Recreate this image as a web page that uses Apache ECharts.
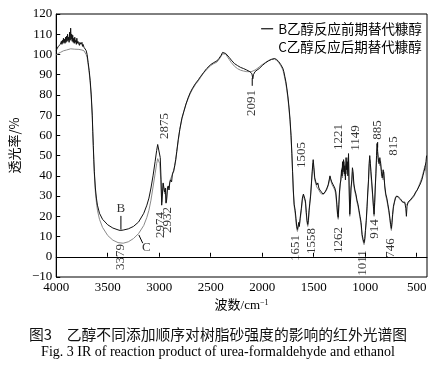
<!DOCTYPE html>
<html><head><meta charset="utf-8">
<script src="https://cdn.jsdelivr.net/npm/echarts@6/dist/echarts.min.js"></script>
<style>html,body{margin:0;padding:0;background:#fff}#c{width:436px;height:367px}</style>
</head><body><div id="c"></div>
<script>
const xTickLabels = [4000,3500,3000,2500,2000,1500,1000,500];
const seriesNames = ['B乙醇反应前期替代糠醇','C乙醇反应后期替代糠醇'];
// [wavenumber, transmittance %]
const specB = [[4000,102],[3990,103],[3980,104],[3970,104.5],[3960,105],[3950,106.5],[3945,105],[3940,107],[3935,105.5],[3930,108],[3925,106],[3920,107.5],[3915,105.5],[3910,108.5],[3905,106],[3900,109],[3895,106.5],[3890,110],[3885,107],[3880,108.5],[3875,106],[3870,111],[3865,107],[3860,113],[3855,107.5],[3850,110],[3845,106.5],[3840,109.5],[3835,106],[3830,108],[3825,105.5],[3820,108.5],[3815,106],[3810,107],[3805,105],[3800,108],[3795,105.5],[3790,106.5],[3780,107],[3775,104.5],[3770,106],[3760,105],[3750,106],[3745,104],[3740,105],[3730,103.5],[3720,103],[3710,102],[3700,100],[3690,96],[3680,92],[3670,87],[3660,80],[3650,70],[3645,62],[3640,55],[3635,48],[3630,42],[3620,34],[3610,29],[3600,25.5],[3580,21.5],[3550,18.5],[3500,15.8],[3450,14.2],[3400,13.3],[3379,13],[3350,13.2],[3300,13.8],[3250,15],[3200,17.2],[3150,21.5],[3120,25.5],[3100,29],[3080,34],[3060,40],[3040,47],[3025,52.5],[3015,55.5],[3008,56.3],[3000,55],[2990,49],[2982,38],[2976,25.5],[2970,30],[2962,36.5],[2955,36],[2948,32],[2940,34],[2934,26.5],[2928,28],[2920,34],[2912,35],[2905,33],[2898,36.5],[2890,38],[2880,37],[2872,41],[2860,42.5],[2850,45],[2840,48],[2830,52],[2815,58],[2800,63],[2780,68.5],[2760,72],[2740,75.5],[2720,78.5],[2700,81],[2680,83],[2650,85.5],[2620,87.5],[2600,89],[2570,91],[2540,93],[2500,95],[2470,96],[2440,96.8],[2420,98],[2400,99.5],[2385,101],[2370,101.8],[2355,100.5],[2340,99.8],[2320,98.5],[2300,97.2],[2270,95.5],[2240,94.5],[2210,93.6],[2180,93],[2150,92.3],[2120,91.5],[2100,90.5],[2091,88],[2085,90],[2070,91.5],[2050,92.3],[2030,93],[2000,94.5],[1970,95.8],[1940,96.8],[1910,97.6],[1880,98],[1860,97.5],[1840,96.5],[1820,95],[1800,93.2],[1790,91.5],[1780,89],[1770,86.5],[1760,83],[1750,79],[1740,74],[1730,68],[1720,60],[1712,51],[1705,42],[1698,33],[1690,26],[1680,23],[1672,19],[1665,15],[1658,13.5],[1651,14],[1645,17],[1640,15],[1632,19],[1620,24],[1610,29],[1600,31],[1595,31.5],[1588,29],[1580,27.5],[1572,22],[1565,18],[1558,16],[1552,18],[1545,23],[1538,26.5],[1530,30],[1522,36],[1515,42],[1508,46.5],[1505,48],[1498,44],[1490,39],[1480,37],[1470,35.5],[1460,36.5],[1450,34],[1440,33],[1425,32],[1410,31],[1400,31.5],[1390,32],[1375,33.5],[1360,35.5],[1350,38],[1342,40],[1335,38.5],[1325,37],[1310,35.5],[1295,34],[1285,32],[1275,26],[1268,21],[1262,19.5],[1256,26],[1250,32],[1243,36],[1236,38],[1230,43],[1225,40],[1220,47],[1215,42],[1210,48],[1203,41],[1198,45],[1192,38],[1186,49],[1180,43],[1175,47],[1168,40],[1162,51],[1156,35],[1150,21],[1144,26],[1138,34],[1130,38],[1124,44],[1118,42],[1110,36],[1100,33],[1090,31],[1080,28],[1070,26],[1060,23],[1050,20],[1040,17],[1030,11],[1020,8.5],[1011,7],[1004,9],[998,13],[990,18],[982,25],[975,32],[968,38],[962,46],[956,50],[950,46],[944,42],[936,37],[928,31],[920,25],[914,21],[908,27],[902,35],[896,41],[890,50],[885,56],[880,52],[874,49],[866,46],[858,49],[850,46],[842,42],[835,39],[826,43],[818,40],[810,35],[800,31],[790,29],[780,26],[770,23],[760,19],[753,16],[746,14],[740,17],[734,21],[726,25],[716,27],[706,29],[696,30],[686,30.5],[676,29.5],[666,29],[656,28.5],[646,28],[636,27],[626,26.5],[616,27],[606,24],[600,20],[594,25],[584,27],[570,27.5],[556,28.5],[540,29.5],[525,30.5],[510,32],[495,33],[480,34.5],[465,36],[450,38],[440,40],[430,42],[420,44],[410,47],[404,50]];
const specC = [[4000,99.8],[3980,100.5],[3960,101],[3930,101.8],[3900,102.2],[3860,102.8],[3820,102.6],[3780,102.5],[3750,102.2],[3730,101.8],[3720,101],[3710,100],[3700,98.5],[3690,95],[3680,91],[3670,86],[3660,79],[3650,69],[3645,61],[3640,54],[3635,47],[3630,41],[3620,32],[3610,27],[3600,23],[3580,18.5],[3550,14.5],[3500,10.5],[3450,8.2],[3400,7],[3350,6.7],[3300,7.4],[3250,9],[3200,11.5],[3150,15.5],[3120,19.5],[3100,23],[3080,28],[3060,34.5],[3040,41],[3025,46],[3015,48.5],[3005,49],[2995,46],[2985,38],[2976,27],[2970,31],[2962,36],[2955,35.5],[2948,31],[2940,33.5],[2934,27],[2928,29],[2920,34],[2912,35],[2905,34],[2898,37],[2890,38.5],[2880,38],[2872,40.5],[2860,42],[2850,44.5],[2840,47.5],[2830,51.5],[2815,57.5],[2800,63],[2780,68],[2760,72],[2740,75.5],[2720,78],[2700,80.5],[2680,82.5],[2650,85],[2620,87],[2600,88.5],[2570,90.8],[2540,92.5],[2500,94.5],[2470,95.5],[2440,96.2],[2420,97.5],[2400,99],[2385,100.3],[2370,101.2],[2355,100.2],[2340,99],[2320,97.5],[2300,96],[2270,94.2],[2240,93],[2210,92.2],[2180,91.8],[2150,91.5],[2120,91.5],[2100,91.6],[2091,92],[2085,92],[2070,92.3],[2050,93],[2030,93.8],[2000,95],[1970,96],[1940,97],[1910,97.5],[1880,97.7],[1860,97],[1840,96],[1820,94.5],[1800,92.5],[1790,90.5],[1780,88],[1770,85.5],[1760,82],[1750,78],[1740,73],[1730,67],[1720,59],[1712,50],[1705,41],[1698,32],[1690,25],[1680,21.5],[1672,17],[1665,14],[1658,12.5],[1651,13],[1645,16],[1640,15],[1632,18],[1620,23],[1610,28],[1600,30.5],[1595,31],[1588,28],[1580,26.5],[1572,21],[1565,17],[1558,15],[1552,17],[1545,22],[1538,26],[1530,31],[1522,37],[1515,41],[1508,45],[1505,46.5],[1498,43],[1490,38],[1480,36],[1470,34.5],[1460,35],[1450,33],[1440,32],[1425,31],[1410,30.5],[1400,31],[1390,31.5],[1375,33],[1360,35],[1350,37],[1342,39.5],[1335,38],[1325,36],[1310,34.5],[1295,33],[1285,30.5],[1275,24.5],[1268,20],[1262,18.5],[1256,24],[1250,30.5],[1243,35],[1236,39],[1230,41],[1225,44],[1220,39],[1215,46],[1210,43],[1203,47],[1198,40],[1192,44],[1186,46],[1180,41],[1175,49],[1168,42],[1162,48],[1156,33],[1150,20],[1144,25],[1138,33],[1130,37],[1124,42],[1118,40],[1110,35],[1100,32],[1090,30],[1080,27],[1070,25],[1060,22],[1050,19],[1040,15.5],[1030,10],[1020,7.5],[1011,6],[1004,8],[998,12],[990,17],[982,24],[975,31],[968,37],[962,44],[956,48],[950,47],[944,40],[936,35],[928,30],[920,24],[914,20],[908,26],[902,34],[896,42],[890,48],[885,53],[880,54],[874,47],[866,48],[858,45],[850,47],[842,40],[835,41],[826,38],[818,42],[810,34],[800,30],[790,28],[780,25],[770,22],[760,18],[753,15],[746,13],[740,16],[734,20],[726,24],[716,27.5],[706,29.5],[696,30],[686,30],[676,29],[666,28.5],[656,28],[646,27.5],[636,27],[626,26.5],[616,26.5],[606,26],[600,25.5],[594,26],[584,26.5],[570,27],[556,28],[540,29],[525,30],[510,31.5],[495,33],[480,35],[465,37],[450,39],[440,41],[430,43],[420,45],[410,42],[404,38]];
// peak annotations: text, wavenumber and transmittance where the label sits
const annoText = ['2875','2091','1505','1221','1149','885','815','3379','2974','2932','1651','1558','1262','1011','914','746','B','C'];
const annoWn   = [2944,2107,1621,1260,1089,879,727,3372,2991,2915,1678,1517,1260,1022,908,755,3372,3125];
const annoT    = [64.6,76.0,50.3,59.2,58.7,62.7,54.8,-0.1,15.7,18.2,4.3,7.8,8.3,-3.1,13.7,4.3,23.6,4.3];
const leaderFrom = [[3372,20.2],[3198,10.8],[2097,88.3],[879,56.7]];
const leaderTo   = [[3372,13.4],[3160,6.7],[2097,84.5],[879,54]];

const serif = '"Liberation Serif","Noto Sans CJK SC",serif';
const cjk = '"Noto Sans CJK SC","Liberation Serif",sans-serif';
const chart = echarts.init(document.getElementById('c'), null, {renderer:'canvas'});

const annoData = annoText.map((t,i)=>({
  value:[annoWn[i], annoT[i]], name:t,
  label:{rotate: (t==='B'||t==='C') ? 0 : 90}
}));
const leaderSeries = leaderFrom.map((p,i)=>({
  type:'line', data:[p, leaderTo[i]], symbol:'none', silent:true,
  lineStyle:{color:'#000', width:1}, z:3
}));

chart.setOption({
  animation:false,
  backgroundColor:'#fff',
  title:[
    {text:'图3　乙醇不同添加顺序对树脂砂强度的影响的红外光谱图', left:'center', top:322,
     textStyle:{fontFamily:cjk, fontSize:14.8, fontWeight:'normal', color:'#111'}},
    {text:'Fig. 3 IR of reaction product of urea-formaldehyde and ethanol', left:'center', top:340,
     textStyle:{fontFamily:serif, fontSize:14, fontWeight:'normal', color:'#000'}}
  ],
  legend:{
    orient:'vertical', right:9, top:17, itemWidth:12, itemHeight:1.2, itemGap:5,
    textStyle:{fontFamily:cjk, fontSize:13.5, color:'#000'},
    data:[{name:seriesNames[0], icon:'rect', itemStyle:{color:'#111'}},
          {name:seriesNames[1], icon:'rect', itemStyle:{color:'rgba(0,0,0,0)'}}]
  },
  grid:{left:49, top:14, right:9, bottom:90, show:true, borderColor:'#000', borderWidth:1},
  xAxis:{
    type:'value', inverse:true, min:400, max:4000,
    name:'波数/cm{sup|−1}', nameLocation:'middle', nameGap:13,
    nameTextStyle:{fontFamily:serif, fontSize:13, color:'#000', verticalAlign:'top',
      rich:{sup:{fontSize:8, verticalAlign:'top', padding:[0,0,6,0], fontFamily:serif}}},
    axisLine:{lineStyle:{color:'#000'}},
    axisTick:{inside:true, length:4, customValues:xTickLabels, lineStyle:{color:'#000'}},
    axisLabel:{customValues:xTickLabels, margin:4, fontFamily:serif, fontSize:13, color:'#000',
      formatter:v=>String(v)},
    splitLine:{show:false}
  },
  yAxis:{
    type:'value', min:-10, max:120, interval:10,
    name:'透光率/%', nameLocation:'middle', nameGap:26,
    nameTextStyle:{fontFamily:cjk, fontSize:13, color:'#000'},
    axisLine:{lineStyle:{color:'#000'}},
    axisTick:{inside:true, length:4, lineStyle:{color:'#000'}},
    axisLabel:{margin:4, fontFamily:serif, fontSize:13, color:'#000',
      formatter:v=> v<0 ? '−'+(-v) : String(v)},
    splitLine:{show:false}
  },
  series:[
    {name:seriesNames[1], type:'line', data:specC, symbol:'none', z:2,
     lineStyle:{color:'#8a8a8a', width:1}},
    {name:seriesNames[0], type:'line', data:specB, symbol:'none', z:3,
     lineStyle:{color:'#111', width:1}, itemStyle:{color:'#111'}},
    ...leaderSeries,
    {type:'scatter', data:annoData, symbolSize:1, itemStyle:{color:'rgba(0,0,0,0)'}, silent:true, z:5,
     clip:false, labelLayout:{hideOverlap:false},
     label:{show:true, position:'inside', formatter:p=>p.name, fontFamily:serif, fontSize:13,
            color:'#000', align:'center', verticalAlign:'middle'}}
  ]
});
</script></body></html>
